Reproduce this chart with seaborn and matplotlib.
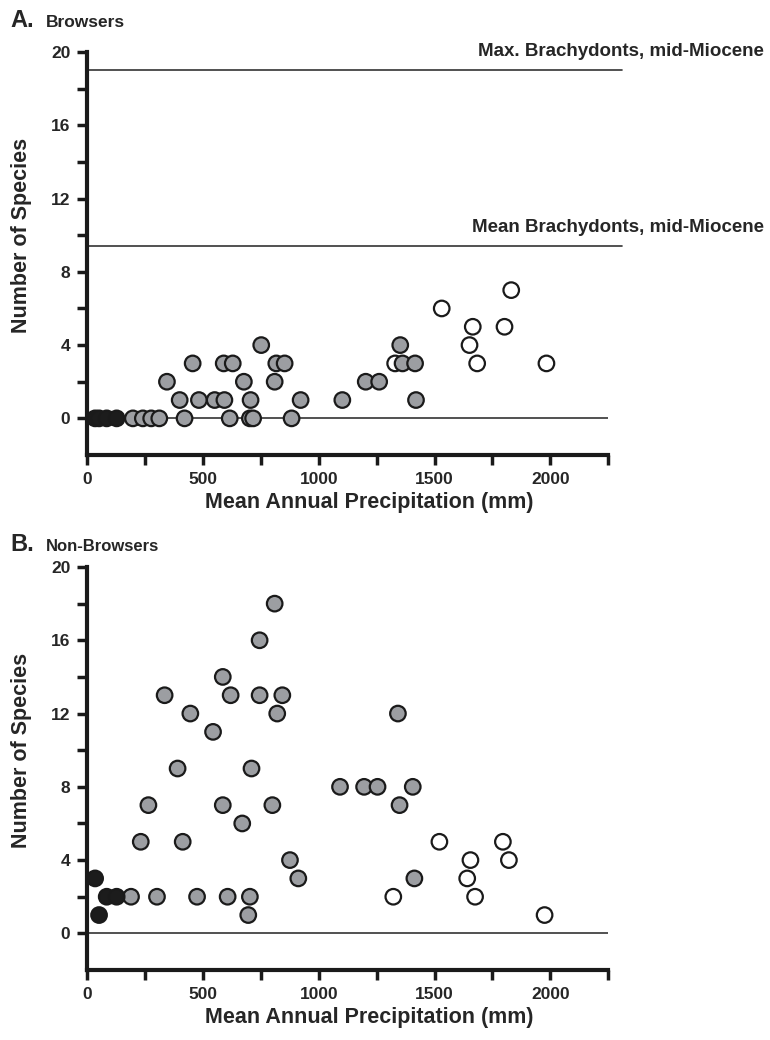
import matplotlib
matplotlib.use("Agg")
import matplotlib.pyplot as plt
import seaborn as sns
import pandas as pd
import numpy as np

# ---------------- data ----------------
# Panel A: Browsers
a_black_x = [35, 52, 85, 128]
a_black_y = [0, 0, 0, 0]
a_gray_x = [198, 241, 277, 312, 421, 616, 703, 717, 883,
            400, 483, 551, 593, 706, 922, 1102, 1420,
            345, 677, 810, 1203, 1261,
            456, 590, 629, 817, 853, 1362, 1416,
            752, 1352]
a_gray_y = [0, 0, 0, 0, 0, 0, 0, 0, 0,
            1, 1, 1, 1, 1, 1, 1, 1,
            2, 2, 2, 2, 2,
            3, 3, 3, 3, 3, 3, 3,
            4, 4]
a_white_x = [1330, 1531, 1651, 1665, 1684, 1802, 1831, 1983]
a_white_y = [3, 6, 4, 5, 3, 5, 7, 3]

# Panel B: Non-Browsers
b_black_x = [35, 52, 85, 128]
b_black_y = [3, 1, 2, 2]
b_gray_x = [810, 745, 586, 335, 620, 745, 843, 446, 821, 1342, 544,
            391, 710, 1092, 1196, 1254, 1406, 265, 586, 800, 1349, 670,
            232, 413, 876, 912, 1413, 190, 302, 475, 607, 703, 696]
b_gray_y = [18, 16, 14, 13, 13, 13, 13, 12, 12, 12, 11,
            9, 9, 8, 8, 8, 8, 7, 7, 7, 7, 6,
            5, 5, 4, 3, 3, 2, 2, 2, 2, 2, 1]
b_white_x = [1322, 1521, 1641, 1655, 1675, 1795, 1821, 1975]
b_white_y = [2, 5, 3, 4, 2, 5, 4, 1]

ref_lines = [19.0, 9.4]
ref_labels = ["Max. Brachydonts, mid-Miocene", "Mean Brachydonts, mid-Miocene"]

x_ticks = list(range(0, 2251, 250))
x_ticklabels = ["0", "", "500", "", "1000", "", "1500", "", "2000", ""]
y_ticks = list(range(0, 21, 2))
y_ticklabels = ["0", "", "4", "", "8", "", "12", "", "16", "", "20"]

# ---------------- style ----------------
sns.set_style("ticks")
plt.rcParams['font.family'] = ['Liberation Sans', 'DejaVu Sans']
plt.rcParams['font.weight'] = 'bold'

palette = {"black": "#1c1c1c", "gray": "#9c9ea2", "white": "#ffffff"}


def make_df(bx, by, gx, gy, wx, wy):
    return pd.DataFrame({
        "precip": list(wx) + list(gx) + list(bx),
        "species": list(wy) + list(gy) + list(by),
        "group": ["white"] * len(wx) + ["gray"] * len(gx) + ["black"] * len(bx),
    })


df_a = make_df(a_black_x, a_black_y, a_gray_x, a_gray_y, a_white_x, a_white_y)
df_b = make_df(b_black_x, b_black_y, b_gray_x, b_gray_y, b_white_x, b_white_y)

fig = plt.figure(figsize=(7.7, 10.4), dpi=100)
ax_a = fig.add_axes([0.113, 0.5625, 0.677, 0.3875])
ax_b = fig.add_axes([0.113, 0.0673, 0.677, 0.3875])


def style_axis(ax):
    ax.set_xlim(0, 2250)
    ax.set_ylim(-2, 20)
    for s in ["top", "right"]:
        ax.spines[s].set_visible(False)
    for s in ["left", "bottom"]:
        ax.spines[s].set_linewidth(3)
        ax.spines[s].set_color("#1a1a1a")
    ax.set_xticks(x_ticks)
    ax.set_xticklabels(x_ticklabels)
    ax.set_yticks(y_ticks)
    ax.set_yticklabels(y_ticklabels)
    ax.tick_params(axis="both", direction="out", length=7, width=2.5,
                   color="#1a1a1a", labelsize=12.5, pad=5)
    for lab in ax.get_xticklabels() + ax.get_yticklabels():
        lab.set_fontweight("bold")
    ax.axhline(0, color="#333333", lw=1.2, zorder=1)


for ax, df in [(ax_a, df_a), (ax_b, df_b)]:
    style_axis(ax)
    sns.scatterplot(data=df, x="precip", y="species", hue="group",
                    palette=palette, s=125, edgecolor="#1a1a1a",
                    linewidth=1.6, legend=False, ax=ax, zorder=3)
    ax.set_xlabel("Mean Annual Precipitation (mm)", fontsize=15.5, fontweight="bold")
    ax.set_ylabel("Number of Species", fontsize=15.5, fontweight="bold")
    ax.xaxis.set_label_coords(0.541, -0.092)
    ax.yaxis.set_label_coords(-0.105, 0.545)

# reference lines in panel A, extending slightly beyond axis
for val, lab in zip(ref_lines, ref_labels):
    ax_a.plot([0, 2310], [val, val], color="#333333", lw=1.2, clip_on=False, zorder=1)
    ax_a.text(2920, val + 0.55, lab, ha="right", va="bottom",
              fontsize=13.5, fontweight="bold", clip_on=False)

# panel titles
fig.text(0.014, 0.974, "A.", fontsize=17, fontweight="bold", va="baseline")
fig.text(0.060, 0.974, "Browsers", fontsize=12.5, fontweight="bold", va="baseline")
fig.text(0.014, 0.47, "B.", fontsize=17, fontweight="bold", va="baseline")
fig.text(0.060, 0.47, "Non-Browsers", fontsize=12, fontweight="bold", va="baseline")

fig.savefig("out.png", dpi=100)
